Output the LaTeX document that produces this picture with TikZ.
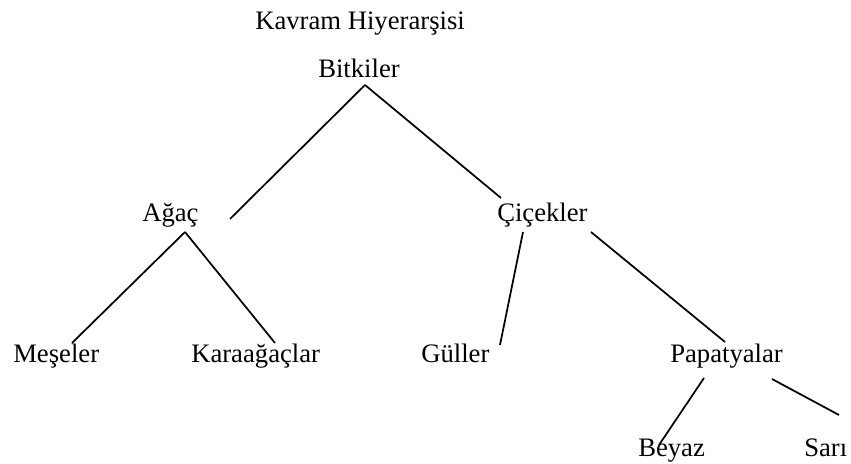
\documentclass[tikz,border=0pt]{standalone}
\usepackage{fontspec}
\setmainfont{Liberation Serif}
\begin{document}
\begin{tikzpicture}[x=0.75pt,y=-0.75pt,
  lbl/.style={anchor=base west,inner sep=0pt,font=\fontsize{20}{24}\selectfont},
  edge/.style={draw=black,line width=1.3pt}]
\useasboundingbox (0,0) rectangle (851,464);
% labels
\node[lbl] (title) at (255,30) {Kavram Hiyerarşisi};
\node[lbl] (bitki) at (318,77) {Bitkiler};
\node[lbl] (agac) at (142,221) {Ağaç};
\node[lbl] (cicek) at (497,221) {Çiçekler};
\node[lbl] (mese) at (13,362) {Meşeler};
\node[lbl] (kara) at (191,362) {Karaağaçlar};
\node[lbl] (gul) at (421,362) {Güller};
\node[lbl] (papa) at (670,362) {Papatyalar};
\node[lbl] (beyaz) at (638,456) {Beyaz};
\node[lbl] (sari) at (804,456) {Sarı};
% connector end points
\coordinate (b1) at (365,85);
\coordinate (a0) at (230,219);
\coordinate (c0) at (501,198);
\coordinate (a1) at (185,232);
\coordinate (m0) at (72,343);
\coordinate (k0) at (275,343);
\coordinate (c1) at (523,232);
\coordinate (g0) at (500,345);
\coordinate (c2) at (591,232);
\coordinate (p0) at (725,342);
\coordinate (p1) at (704,378);
\coordinate (y0) at (659,445);
\coordinate (p2) at (772,379);
\coordinate (s0) at (839,415);
% connectors
\draw[edge] (b1) -- (a0);
\draw[edge] (b1) -- (c0);
\draw[edge] (a1) -- (m0);
\draw[edge] (a1) -- (k0);
\draw[edge] (c1) -- (g0);
\draw[edge] (c2) -- (p0);
\draw[edge] (p1) -- (y0);
\draw[edge] (p2) -- (s0);
\end{tikzpicture}
\end{document}
